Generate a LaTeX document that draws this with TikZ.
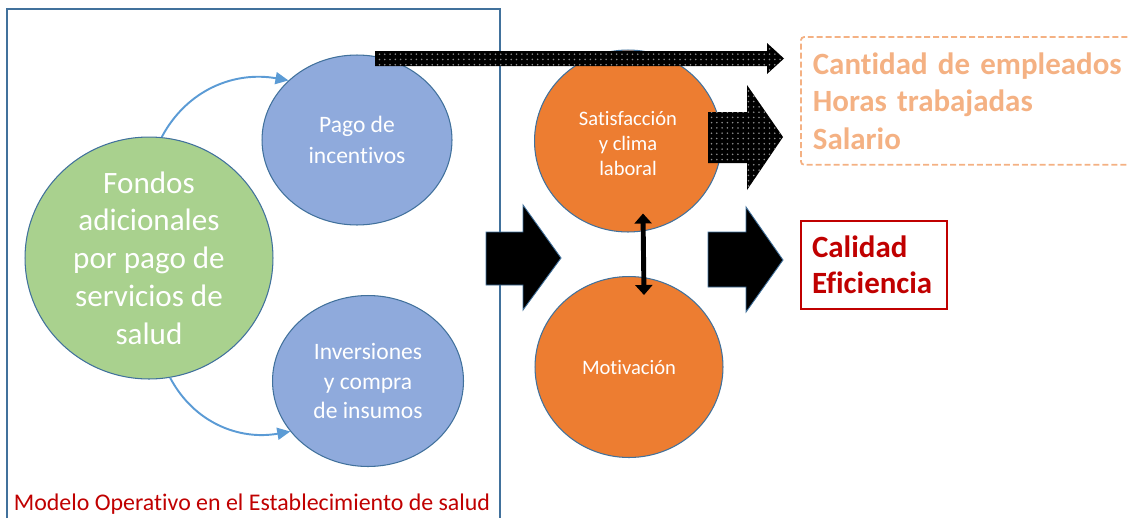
\documentclass[tikz,border=0pt]{standalone}
\usepackage{fontspec}
\setmainfont[Ligatures={NoCommon,NoContextual}]{Carlito}
\usetikzlibrary{arrows.meta, shapes.geometric, patterns, calc}
\definecolor{verde}{HTML}{A9D18E}
\definecolor{azul}{HTML}{8FAADC}
\definecolor{naranja}{HTML}{ED7D31}
\definecolor{borde}{HTML}{41719C}
\definecolor{flecha}{HTML}{5B9BD5}
\definecolor{durazno}{HTML}{F4B183}
\definecolor{rojo}{HTML}{C00000}

\begin{document}
\begin{tikzpicture}[x=0.02cm, y=-0.02cm,
    bubble/.style={ellipse, draw=borde, line width=0.6pt, inner sep=0pt},
    bubbletext/.style={text=white, align=center, inner sep=0pt},
    curved/.style={flecha, line width=1.1pt, -{Triangle[length=0.26cm, width=0.24cm]}},
    bigarrow/.style={fill=black, draw=borde, line width=0.5pt},
    dotarrow/.style={fill=black, postaction={pattern=dots, pattern color=white!55!black}},
    dblarrow/.style={black, line width=2.8pt, {Triangle[length=0.2cm, width=0.34cm]}-{Triangle[length=0.2cm, width=0.34cm]}}]
      \useasboundingbox (0,0) rectangle (1129,518);

      % marco del establecimiento
      \draw[borde, line width=0.6pt] (7,518) -- (7,9) -- (500,9) -- (500,518);

      \node[bubble, fill=verde, minimum width=4.96cm, minimum height=4.84cm,
            label={[bubbletext, font=\fontsize{17.7pt}{21.5pt}\selectfont]center:{Fondos\\adicionales\\por pago de\\servicios de\\salud}}] (fondos) at (149, 258) {};
      \node[bubble, fill=azul, minimum width=3.8cm, minimum height=3.4cm,
            label={[bubbletext, font=\fontsize{13.4pt}{17.6pt}\selectfont]center:{Pago de\\incentivos}}] (pago) at (357, 140) {};
      \node[bubble, fill=azul, minimum width=3.82cm, minimum height=3.42cm,
            label={[bubbletext, font=\fontsize{13.4pt}{16.6pt}\selectfont]center:{Inversiones\\y compra\\de insumos}}] (inversion) at (368, 381) {};
      \node[bubble, fill=naranja, minimum width=3.74cm, minimum height=3.64cm,
            label={[bubbletext, font=\fontsize{11.7pt}{14.5pt}\selectfont, yshift=-0.05cm]center:{Satisfacción\\y clima\\laboral}}] (satis) at (628, 141) {};
      \node[bubble, fill=naranja, minimum width=3.76cm, minimum height=3.62cm,
            label={[bubbletext, font=\fontsize{11.7pt}{14.5pt}\selectfont]center:{Motivación}}] (motiv) at (629, 367) {};

      \node[draw=durazno, dashed, dash pattern=on 3.4pt off 1.7pt, line width=1pt, rounded corners=2pt, anchor=north west,
            text width=6.3cm, inner xsep=0.24cm, minimum height=2.56cm, align=left, text=durazno,
            font=\bfseries\fontsize{17.6pt}{21.3pt}\selectfont] (medidas) at (800, 36) {Cantidad de empleados\\Horas trabajadas\\Salario};
      \node[draw=rojo, line width=1.2pt, anchor=north west,
            text width=2.48cm, inner xsep=0.22cm, minimum height=1.76cm, align=left, text=rojo,
            font=\bfseries\fontsize{17.6pt}{20.6pt}\selectfont] (resultado) at (800, 220) {Calidad\\Eficiencia};
      \node[text=rojo, anchor=base, inner sep=0pt, font=\fontsize{13.6pt}{16pt}\selectfont] (modelo) at (252, 510) {Modelo Operativo en el Establecimiento de salud};

      \draw[curved] (fondos.84) to[out=62, in=170] (pago.139);
      \draw[curved] (fondos.-80) to[out=-62, in=190] (inversion.213);

      % flechas de bloque
      \filldraw[bigarrow] (486,232) -- (523,232) -- (523,205) -- (561,258) -- (523,310) -- (523,285) -- (486,285) -- cycle;
      \filldraw[bigarrow] (708,232) -- (746,232) -- (746,207) -- (783,260) -- (746,312) -- (746,287) -- (708,287) -- cycle;
      \fill[dotarrow] (708,112) -- (747,112) -- (747,85) -- (783,137) -- (747,190) -- (747,163) -- (708,163) -- cycle;
      \fill[dotarrow] (375,51) -- (767,51) -- (767,43) -- (784,58.5) -- (767,74) -- (767,66) -- (375,66) -- cycle;

      \draw[dblarrow] ([xshift=0.3cm, yshift=0.38cm]satis.south) -- ([xshift=0.3cm, yshift=-0.38cm]motiv.north);
    \end{tikzpicture}
\end{document}
